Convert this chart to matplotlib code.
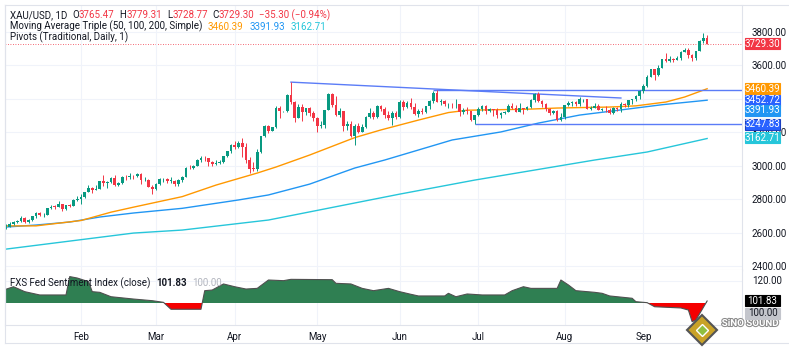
import matplotlib
matplotlib.use('Agg')
import matplotlib.pyplot as plt
import matplotlib.patheffects as pe
from matplotlib.lines import Line2D
from matplotlib.patches import Rectangle
import numpy as np
import pandas as pd

plt.rcParams['font.family'] = ['Roboto', 'DejaVu Sans']

# ---------------- data ----------------
dates = pd.bdate_range('2025-01-06', '2025-09-24')

closes = [
    # Jan
    2636, 2649, 2661, 2670, 2690, 2663, 2677, 2697, 2715, 2703, 2708, 2745, 2755, 2754, 2770, 2740, 2763, 2760, 2794, 2798,
    # Feb
    2815, 2843, 2866, 2856, 2861, 2907, 2898, 2905, 2929, 2883, 2898, 2935, 2933, 2939, 2936, 2951, 2915, 2917, 2875, 2858,
    # Mar
    2893, 2918, 2920, 2910, 2910, 2889, 2916, 2934, 2988, 2984, 3001, 3034, 3047, 3044, 3023, 3011, 3019, 3020, 3057, 3085, 3124,
    # Apr
    3113, 3134, 3114, 3037, 2983, 2982, 3083, 3175, 3237, 3210, 3230, 3343, 3327, 3327, 3424, 3381, 3288, 3349, 3319, 3343, 3317, 3288,
    # May
    3239, 3241, 3334, 3431, 3365, 3306, 3325, 3236, 3249, 3176, 3240, 3200, 3230, 3289, 3315, 3294, 3358, 3342, 3301, 3288, 3318, 3289,
    # Jun
    3381, 3353, 3373, 3352, 3310, 3325, 3322, 3355, 3386, 3433, 3384, 3388, 3369, 3369, 3368, 3368, 3323, 3332, 3328, 3274, 3303,
    # Jul
    3338, 3357, 3326, 3337, 3335, 3302, 3313, 3324, 3355, 3343, 3324, 3347, 3339, 3350, 3396, 3431, 3387, 3368, 3337, 3314, 3326, 3275, 3289,
    # Aug
    3363, 3373, 3380, 3369, 3397, 3397, 3342, 3348, 3356, 3335, 3336, 3332, 3315, 3348, 3339, 3372, 3365, 3393, 3397, 3416, 3448,
    # Sep
    3477, 3533, 3578, 3545, 3586, 3636, 3625, 3641, 3634, 3643, 3679, 3690, 3660, 3644, 3685, 3746, 3765, 3729.30,
]
highs = [
    2650, 2664, 2670, 2675, 2697, 2694, 2680, 2700, 2725, 2721, 2716, 2748, 2763, 2765, 2786, 2772, 2765, 2773, 2800, 2817,
    2830, 2845, 2882, 2870, 2886, 2911, 2942, 2908, 2935, 2942, 2905, 2938, 2947, 2955, 2945, 2956, 2954, 2930, 2920, 2883,
    2895, 2928, 2928, 2925, 2930, 2915, 2920, 2940, 2990, 3005, 3004, 3038, 3057, 3057, 3045, 3027, 3036, 3033, 3059, 3087, 3128,
    3149, 3149, 3167, 3136, 3055, 3020, 3100, 3180, 3245, 3245, 3233, 3358, 3357, 3330, 3430, 3500, 3387, 3370, 3369, 3345, 3354, 3328,
    3290, 3269, 3336, 3436, 3433, 3415, 3345, 3330, 3265, 3265, 3252, 3253, 3250, 3295, 3345, 3325, 3366, 3365, 3350, 3325, 3330, 3325,
    3392, 3392, 3385, 3403, 3375, 3340, 3348, 3360, 3395, 3446, 3452, 3400, 3395, 3375, 3378, 3398, 3368, 3343, 3350, 3329, 3305,
    3350, 3365, 3365, 3345, 3342, 3345, 3322, 3330, 3368, 3375, 3366, 3377, 3346, 3360, 3402, 3434, 3439, 3395, 3373, 3345, 3334, 3334, 3315,
    3363, 3385, 3390, 3390, 3409, 3400, 3400, 3358, 3375, 3368, 3348, 3358, 3345, 3350, 3350, 3379, 3377, 3394, 3394, 3423, 3454,
    3490, 3540, 3578, 3564, 3600, 3641, 3675, 3658, 3647, 3655, 3685, 3703, 3707, 3668, 3686, 3750, 3791, 3779.31,
]
lows = [
    2623, 2633, 2645, 2656, 2664, 2656, 2660, 2668, 2690, 2700, 2695, 2705, 2740, 2742, 2751, 2730, 2737, 2751, 2758, 2790,
    2772, 2808, 2840, 2834, 2853, 2859, 2880, 2865, 2897, 2877, 2876, 2890, 2915, 2922, 2918, 2931, 2890, 2910, 2870, 2833,
    2855, 2885, 2905, 2895, 2895, 2880, 2880, 2904, 2932, 2978, 2982, 2999, 3025, 3030, 2999, 3000, 3005, 3013, 3016, 3054, 3076,
    3100, 3103, 3054, 3015, 2957, 2970, 2970, 3075, 3169, 3193, 3205, 3228, 3284, 3323, 3324, 3367, 3260, 3286, 3265, 3305, 3295, 3268,
    3202, 3225, 3225, 3331, 3350, 3295, 3292, 3208, 3215, 3171, 3121, 3195, 3205, 3228, 3283, 3278, 3285, 3325, 3285, 3275, 3244, 3277,
    3287, 3334, 3343, 3340, 3305, 3293, 3310, 3318, 3340, 3378, 3380, 3365, 3360, 3345, 3348, 3348, 3295, 3312, 3310, 3268, 3247.83,
    3295, 3330, 3311, 3322, 3296, 3287, 3283, 3310, 3320, 3340, 3320, 3319, 3310, 3335, 3346, 3384, 3382, 3352, 3325, 3301, 3308, 3268, 3268,
    3281, 3355, 3358, 3357, 3360, 3382, 3341, 3331, 3345, 3331, 3330, 3323, 3311, 3312, 3330, 3321, 3352, 3351, 3370, 3390, 3400,
    3436, 3470, 3530, 3511, 3537, 3583, 3620, 3621, 3620, 3630, 3634, 3678, 3646, 3628, 3631, 3684, 3732, 3728.77,
]
first_open = 2630
last_open = 3765.47

ma50_dates = ['2025-01-06', '2025-01-16', '2025-02-03', '2025-02-13', '2025-02-21', '2025-03-12', '2025-03-25',
              '2025-04-09', '2025-04-16', '2025-04-29', '2025-05-12', '2025-05-15', '2025-05-26', '2025-06-09',
              '2025-06-19', '2025-06-26', '2025-07-18', '2025-07-30', '2025-08-19', '2025-08-28', '2025-09-09',
              '2025-09-16', '2025-09-24']
ma50_vals = [2640, 2640, 2672, 2722, 2752, 2815, 2884, 2956, 2992, 3064, 3142, 3168, 3214, 3273,
             3318, 3332, 3338, 3345, 3351, 3358, 3381, 3411, 3460.39]

ma100_dates = ['2025-01-06', '2025-01-16', '2025-01-29', '2025-02-10', '2025-02-21', '2025-03-12', '2025-04-02',
               '2025-04-14', '2025-04-29', '2025-05-15', '2025-05-27', '2025-06-20', '2025-07-09', '2025-07-23',
               '2025-08-07', '2025-08-20', '2025-09-08', '2025-09-24']
ma100_vals = [2633, 2645, 2663, 2693, 2717, 2745, 2795, 2825, 2890, 2986, 3034, 3154, 3202, 3255,
              3303, 3328, 3365, 3391.93]

ma200_dates = ['2025-01-06', '2025-02-21', '2025-03-12', '2025-04-14', '2025-06-02', '2025-06-30',
               '2025-08-13', '2025-09-02', '2025-09-24']
ma200_vals = [2501, 2597, 2615, 2675, 2830, 2914, 3034, 3082, 3162.71]

trend_dates = ['2025-04-22', '2025-08-22']
trend_vals = [3500, 3405]
pivot_levels = [3452.72, 3247.83]
pivot_from = ['2025-06-13', '2025-06-30']

sent_dates = ['2025-01-06', '2025-01-08', '2025-01-13', '2025-01-15', '2025-01-17', '2025-01-28', '2025-01-29',
              '2025-01-31', '2025-02-05', '2025-02-06', '2025-02-10', '2025-02-13', '2025-02-21', '2025-02-28',
              '2025-03-05', '2025-03-07', '2025-03-19', '2025-03-20', '2025-03-24', '2025-03-27', '2025-04-01',
              '2025-04-04', '2025-04-09', '2025-04-14', '2025-04-18', '2025-04-22', '2025-05-07', '2025-05-08',
              '2025-05-14', '2025-05-19', '2025-05-22', '2025-05-28', '2025-06-02', '2025-06-05', '2025-06-09',
              '2025-06-18', '2025-06-19', '2025-06-23', '2025-06-26', '2025-07-02', '2025-07-10', '2025-07-14',
              '2025-07-17', '2025-07-21', '2025-07-30', '2025-07-31', '2025-08-04', '2025-08-06', '2025-08-13',
              '2025-08-15', '2025-08-19', '2025-08-27', '2025-08-28', '2025-09-02', '2025-09-04', '2025-09-15',
              '2025-09-17', '2025-09-18', '2025-09-19', '2025-09-24']
sent_vals = [112.5, 114.8, 110.3, 108.8, 107.3, 107.3, 124.0,
             122.7, 119.4, 110.3, 109.7, 105.7, 103.6, 102.1,
             100.6, 94.3, 94.3, 111.2, 111.8, 117.3, 114.8,
             112.7, 113.3, 120.9, 120.3, 121.5, 121.2, 117.9,
             117.3, 113.3, 111.2, 113.3, 110.3, 107.9, 106.4,
             106.4, 108.8, 105.7, 108.2, 107.3, 107.3, 111.2,
             114.8, 113.3, 113.3, 120.9, 116.4, 111.2, 109.7,
             108.8, 106.4, 104.3, 101.2, 100.3, 96.6, 95.5,
             93.6, 83.0, 84.5, 101.83]

price_ticks = [2400, 2600, 2800, 3000, 3200, 3400, 3600, 3800]
month_names = ['Feb', 'Mar', 'Apr', 'May', 'Jun', 'Jul', 'Aug', 'Sep']

# ---------------- colours ----------------
UP, DN = '#089981', '#f23645'
DARK = '#131722'
ORANGE, BLUE, CYAN, PIV = '#ff9800', '#2196f3', '#26c6da', '#5b7cf7'
GRID = '#f0f3fa'
BORDER = '#e0e3eb'

W, H = 789, 352
fig = plt.figure(figsize=(W / 100, H / 100), dpi=100)


def px_axes(x0, y0, x1, y1):
    return fig.add_axes([x0 / W, 1 - y1 / H, (x1 - x0) / W, (y1 - y0) / H])


ax = px_axes(5, 5, 742, 270)
ax2 = px_axes(5, 270, 742, 325)

x = np.arange(len(dates))
def pos(ds):
    return dates.get_indexer(pd.to_datetime(ds))

c = np.array(closes, float)
o = np.r_[first_open, c[:-1]]
o[-1] = last_open
h = np.maximum(np.array(highs, float), np.maximum(o, c))
l = np.minimum(np.array(lows, float), np.minimum(o, c))
col = np.where(c >= o, UP, DN)

xlim = (-0.27, 196.3)
for a in (ax, ax2):
    a.set_xlim(*xlim)
    a.set_facecolor('white')
    for s in ('top', 'left', 'right', 'bottom'):
        a.spines[s].set_color(BORDER)
        a.spines[s].set_linewidth(0.8)
    a.spines['top'].set_visible(False)

month_pos = [dates.get_indexer([d])[0] for d in
             [dates[(dates.month == m)][0] for m in range(2, 10)]]

# ---- main panel ----
ax.set_ylim(2376, 3961.5)
ax.set_yticks(price_ticks)
ax.set_xticks(month_pos)
ax.grid(True, color=GRID, lw=0.8)
ax.tick_params(axis='x', length=0, labelbottom=False)
ax.yaxis.tick_right()
ax.tick_params(axis='y', length=0, pad=7, labelsize=7, labelcolor=DARK)
# 3400 sits fully under the price tags
ax.yaxis.set_major_formatter(lambda v, p: '' if v == 3400 else f'{v:.2f}')

ax.plot(pos(ma200_dates), ma200_vals, color=CYAN, lw=1.0, zorder=2)
ax.plot(pos(ma100_dates), ma100_vals, color=BLUE, lw=1.0, zorder=2)
ax.plot(pos(ma50_dates), ma50_vals, color=ORANGE, lw=1.0, zorder=2)

ax.plot(pos(trend_dates), trend_vals, color=PIV, lw=1.0, zorder=2)
for lev, d in zip(pivot_levels, pivot_from):
    ax.hlines(lev, pos([d])[0], xlim[1], color=PIV, lw=1.0, zorder=2)

ax.axhline(c[-1], color=DN, lw=0.6, ls=(0, (1, 2)), zorder=1)

ax.vlines(x, l, h, colors=col, lw=0.7, zorder=3)
ax.bar(x, np.maximum(np.abs(c - o), 2.0), 0.7, bottom=np.minimum(o, c), color=col, lw=0, zorder=4)


def tag(a, val, fc, tc='white', dy_px=0, ec=None):
    # price tag on the right scale: fixed-size box, centred on the value (shifted by dy_px)
    y_px = a.transData.transform((0, val))[1] - dy_px
    bh, bx0, bw = 11, 745, 35
    fig.add_artist(Rectangle((bx0 / W, (y_px - bh / 2) / H), bw / W, bh / H, transform=fig.transFigure,
                             fc=fc, ec=ec or fc, lw=0.8, zorder=10))
    fig.text((bx0 + bw / 2) / W, y_px / H, f'{val:.2f}', color=tc, fontsize=7, ha='center',
             va='center', zorder=11)


tag(ax, c[-1], DN)
tag(ax, ma50_vals[-1], ORANGE)
tag(ax, pivot_levels[0], '#2962ff', dy_px=10)
tag(ax, ma100_vals[-1], BLUE, dy_px=10.3)
tag(ax, pivot_levels[1], '#2962ff', ec='#1a3fc0')
tag(ax, ma200_vals[-1], CYAN, dy_px=-1)

# ---- sentiment panel ----
sx = pos(sent_dates)
sv = np.array(sent_vals)
ax2.set_ylim(80, 130)
ax2.set_yticks([120])
ax2.set_xticks(month_pos)
ax2.set_xticklabels(month_names)
ax2.grid(True, color=GRID, lw=0.8)
ax2.tick_params(axis='y', length=0, labelleft=False, labelright=False)
ax2.text(1.0137, 120, '120.00', transform=ax2.get_yaxis_transform(), ha='left', va='center',
         fontsize=7, color=DARK)
ax2.tick_params(axis='x', length=0, pad=5, labelsize=7, labelcolor=DARK)
ax2.fill_between(sx, 100, sv, where=sv >= 100, interpolate=True, color='#2f7f52', lw=0, zorder=2)
ax2.fill_between(sx, 100, sv, where=sv <= 100, interpolate=True, color='#f50000', lw=0, zorder=2)
ax2.plot(sx, sv, color='#505050', lw=0.8, zorder=3)

tag(ax2, sv[-1], '#000000')
tag(ax2, 100.0, '#c3c5cc', tc=DARK, dy_px=10)


# ---- header texts ----
def chain(a, y_px, pieces):
    prev = None
    for txt, color, gap, weight in pieces:
        if prev is None:
            prev = fig.text(10 / W, 1 - y_px / H, txt, color=color, fontsize=7,
                            ha='left', va='center', fontweight=weight, zorder=20)
        else:
            prev = a.annotate(txt, xy=(1, 0.5), xycoords=prev, xytext=(gap, 0),
                              textcoords='offset points', ha='left', va='center',
                              color=color, fontsize=7, fontweight=weight,
                              annotation_clip=False, zorder=20)


chain(ax, 15, [('XAU/USD, 1D', DARK, 0, 'normal'), ('O', DARK, 3.5, 'normal'), ('3765.47', DN, 0, 'normal'),
               ('H', DARK, 3.5, 'normal'), ('3779.31', DN, 0, 'normal'), ('L', DARK, 3.5, 'normal'),
               ('3728.77', DN, 0, 'normal'), ('C', DARK, 3.5, 'normal'), ('3729.30', DN, 0, 'normal'),
               ('\u221235.30 (\u22120.94%)', DN, 3.5, 'normal')])
chain(ax, 26.5, [('Moving Average Triple (50, 100, 200, Simple)', DARK, 0, 'normal'),
                 ('3460.39', ORANGE, 4, 'normal'), ('3391.93', BLUE, 4, 'normal'), ('3162.71', CYAN, 4, 'normal')])
chain(ax, 37, [('Pivots (Traditional, Daily, 1)', DARK, 0, 'normal')])
chain(ax2, 283, [('FXS Fed Sentiment Index (close)', DARK, 0, 'normal'), ('101.83', DARK, 4, 'bold'),
                 ('100.00', '#b2b5be', 4, 'normal')])

# ---- outer frame ----
for xs, ys in [([5, 789], [5, 5]), ([5, 789], [343, 343]), ([5, 5], [5, 343])]:
    fig.add_artist(Line2D([v / W for v in xs], [1 - v / H for v in ys], color=BORDER, lw=0.8))

# ---- watermark ----
fig.add_artist(Line2D([702 / W], [1 - 330 / H], marker='D', markersize=15, mfc='#c9a227', mec='#555555',
                      mew=1.5, transform=fig.transFigure))
fig.add_artist(Line2D([702 / W], [1 - 330 / H], marker='D', markersize=6, mfc='#8fbf3f', mec='white',
                      mew=1.0, transform=fig.transFigure))
fig.text(750 / W, 1 - 323 / H, 'SiNO SOUND', color='white', fontsize=7, fontweight='bold',
         ha='center', va='center', path_effects=[pe.withStroke(linewidth=1.5, foreground='#8a8a8a')])

fig.savefig('out.png', dpi=100)
